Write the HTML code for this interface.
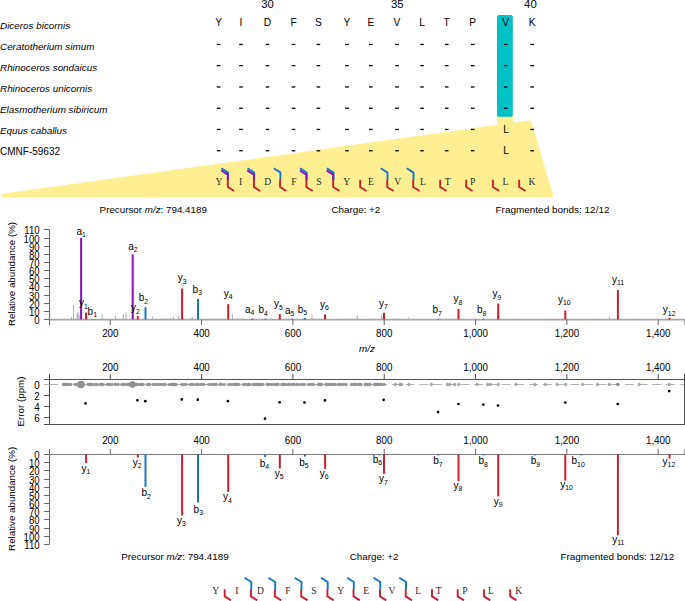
<!DOCTYPE html><html><head><meta charset="utf-8"><style>html,body{margin:0;padding:0;background:#fff;width:685px;height:601px;overflow:hidden}svg{display:block;font-family:"Liberation Sans",sans-serif}</style></head><body>
<svg width="685" height="601" viewBox="0 0 685 601">
<path d="M1.9,193.8 L528.5,120.4 Q530.8,120.1 531.5,122 L553,194.5 Q553.5,197.6 551,197.6 L1.9,197.6 Z" fill="#fef092"/>
<rect x="497" y="112" width="15.8" height="14" fill="#fef092"/>
<rect x="497" y="15" width="15.8" height="101.8" rx="2" fill="#00c1c6"/>
<text transform="translate(0.0,29.4) scale(1,1.0)" font-size="9.9" font-style="italic" fill="#000">Diceros bicornis</text>
<text transform="translate(0.0,50.3) scale(1,1.0)" font-size="9.9" font-style="italic" fill="#000">Ceratotherium simum</text>
<text transform="translate(0.0,71.3) scale(1,1.0)" font-size="9.9" font-style="italic" fill="#000">Rhinoceros sondaicus</text>
<text transform="translate(0.0,92.2) scale(1,1.0)" font-size="9.9" font-style="italic" fill="#000">Rhinoceros unicornis</text>
<text transform="translate(0.0,113.1) scale(1,1.0)" font-size="9.9" font-style="italic" fill="#000">Elasmotherium sibiricum</text>
<text transform="translate(0.0,134.1) scale(1,1.0)" font-size="9.9" font-style="italic" fill="#000">Equus caballus</text>
<text transform="translate(0.0,155.0) scale(1,1.0)" font-size="10" fill="#000">CMNF-59632</text>
<text transform="translate(218.6,25.7) scale(1,1.0)" font-size="10.2" text-anchor="middle" fill="#000">Y</text>
<text transform="translate(241.0,25.7) scale(1,1.0)" font-size="10.2" text-anchor="middle" fill="#000">I</text>
<text transform="translate(267.5,25.7) scale(1,1.0)" font-size="10.2" text-anchor="middle" fill="#000">D</text>
<text transform="translate(293.5,25.7) scale(1,1.0)" font-size="10.2" text-anchor="middle" fill="#000">F</text>
<text transform="translate(318.4,25.7) scale(1,1.0)" font-size="10.2" text-anchor="middle" fill="#000">S</text>
<text transform="translate(347.0,25.7) scale(1,1.0)" font-size="10.2" text-anchor="middle" fill="#000">Y</text>
<text transform="translate(370.8,25.7) scale(1,1.0)" font-size="10.2" text-anchor="middle" fill="#000">E</text>
<text transform="translate(397.0,25.7) scale(1,1.0)" font-size="10.2" text-anchor="middle" fill="#000">V</text>
<text transform="translate(422.0,25.7) scale(1,1.0)" font-size="10.2" text-anchor="middle" fill="#000">L</text>
<text transform="translate(446.7,25.7) scale(1,1.0)" font-size="10.2" text-anchor="middle" fill="#000">T</text>
<text transform="translate(472.7,25.7) scale(1,1.0)" font-size="10.2" text-anchor="middle" fill="#000">P</text>
<text transform="translate(505.7,25.7) scale(1,1.0)" font-size="10.2" text-anchor="middle" fill="#000">V</text>
<text transform="translate(532.2,25.7) scale(1,1.0)" font-size="10.2" text-anchor="middle" fill="#000">K</text>
<text transform="translate(267.5,8.2) scale(1,1.0)" font-size="11.3" text-anchor="middle" fill="#000">30</text>
<text transform="translate(397.3,8.2) scale(1,1.0)" font-size="11.3" text-anchor="middle" fill="#000">35</text>
<text transform="translate(530.4,8.2) scale(1,1.0)" font-size="11.3" text-anchor="middle" fill="#000">40</text>
<rect x="216.8" y="43.8" width="3.6" height="1.3" fill="#000"/>
<rect x="239.2" y="43.8" width="3.6" height="1.3" fill="#000"/>
<rect x="265.7" y="43.8" width="3.6" height="1.3" fill="#000"/>
<rect x="291.7" y="43.8" width="3.6" height="1.3" fill="#000"/>
<rect x="316.6" y="43.8" width="3.6" height="1.3" fill="#000"/>
<rect x="345.2" y="43.8" width="3.6" height="1.3" fill="#000"/>
<rect x="369.0" y="43.8" width="3.6" height="1.3" fill="#000"/>
<rect x="395.2" y="43.8" width="3.6" height="1.3" fill="#000"/>
<rect x="420.2" y="43.8" width="3.6" height="1.3" fill="#000"/>
<rect x="444.9" y="43.8" width="3.6" height="1.3" fill="#000"/>
<rect x="470.9" y="43.8" width="3.6" height="1.3" fill="#000"/>
<rect x="503.9" y="43.8" width="3.6" height="1.3" fill="#000"/>
<rect x="530.4" y="43.8" width="3.6" height="1.3" fill="#000"/>
<rect x="216.8" y="65.0" width="3.6" height="1.3" fill="#000"/>
<rect x="239.2" y="65.0" width="3.6" height="1.3" fill="#000"/>
<rect x="265.7" y="65.0" width="3.6" height="1.3" fill="#000"/>
<rect x="291.7" y="65.0" width="3.6" height="1.3" fill="#000"/>
<rect x="316.6" y="65.0" width="3.6" height="1.3" fill="#000"/>
<rect x="345.2" y="65.0" width="3.6" height="1.3" fill="#000"/>
<rect x="369.0" y="65.0" width="3.6" height="1.3" fill="#000"/>
<rect x="395.2" y="65.0" width="3.6" height="1.3" fill="#000"/>
<rect x="420.2" y="65.0" width="3.6" height="1.3" fill="#000"/>
<rect x="444.9" y="65.0" width="3.6" height="1.3" fill="#000"/>
<rect x="470.9" y="65.0" width="3.6" height="1.3" fill="#000"/>
<rect x="503.9" y="65.0" width="3.6" height="1.3" fill="#000"/>
<rect x="530.4" y="65.0" width="3.6" height="1.3" fill="#000"/>
<rect x="216.8" y="86.3" width="3.6" height="1.3" fill="#000"/>
<rect x="239.2" y="86.3" width="3.6" height="1.3" fill="#000"/>
<rect x="265.7" y="86.3" width="3.6" height="1.3" fill="#000"/>
<rect x="291.7" y="86.3" width="3.6" height="1.3" fill="#000"/>
<rect x="316.6" y="86.3" width="3.6" height="1.3" fill="#000"/>
<rect x="345.2" y="86.3" width="3.6" height="1.3" fill="#000"/>
<rect x="369.0" y="86.3" width="3.6" height="1.3" fill="#000"/>
<rect x="395.2" y="86.3" width="3.6" height="1.3" fill="#000"/>
<rect x="420.2" y="86.3" width="3.6" height="1.3" fill="#000"/>
<rect x="444.9" y="86.3" width="3.6" height="1.3" fill="#000"/>
<rect x="470.9" y="86.3" width="3.6" height="1.3" fill="#000"/>
<rect x="503.9" y="86.3" width="3.6" height="1.3" fill="#000"/>
<rect x="530.4" y="86.3" width="3.6" height="1.3" fill="#000"/>
<rect x="216.8" y="107.6" width="3.6" height="1.3" fill="#000"/>
<rect x="239.2" y="107.6" width="3.6" height="1.3" fill="#000"/>
<rect x="265.7" y="107.6" width="3.6" height="1.3" fill="#000"/>
<rect x="291.7" y="107.6" width="3.6" height="1.3" fill="#000"/>
<rect x="316.6" y="107.6" width="3.6" height="1.3" fill="#000"/>
<rect x="345.2" y="107.6" width="3.6" height="1.3" fill="#000"/>
<rect x="369.0" y="107.6" width="3.6" height="1.3" fill="#000"/>
<rect x="395.2" y="107.6" width="3.6" height="1.3" fill="#000"/>
<rect x="420.2" y="107.6" width="3.6" height="1.3" fill="#000"/>
<rect x="444.9" y="107.6" width="3.6" height="1.3" fill="#000"/>
<rect x="470.9" y="107.6" width="3.6" height="1.3" fill="#000"/>
<rect x="503.9" y="107.6" width="3.6" height="1.3" fill="#000"/>
<rect x="530.4" y="107.6" width="3.6" height="1.3" fill="#000"/>
<rect x="216.8" y="128.8" width="3.6" height="1.3" fill="#000"/>
<rect x="239.2" y="128.8" width="3.6" height="1.3" fill="#000"/>
<rect x="265.7" y="128.8" width="3.6" height="1.3" fill="#000"/>
<rect x="291.7" y="128.8" width="3.6" height="1.3" fill="#000"/>
<rect x="316.6" y="128.8" width="3.6" height="1.3" fill="#000"/>
<rect x="345.2" y="128.8" width="3.6" height="1.3" fill="#000"/>
<rect x="369.0" y="128.8" width="3.6" height="1.3" fill="#000"/>
<rect x="395.2" y="128.8" width="3.6" height="1.3" fill="#000"/>
<rect x="420.2" y="128.8" width="3.6" height="1.3" fill="#000"/>
<rect x="444.9" y="128.8" width="3.6" height="1.3" fill="#000"/>
<rect x="470.9" y="128.8" width="3.6" height="1.3" fill="#000"/>
<rect x="530.4" y="128.8" width="3.6" height="1.3" fill="#000"/>
<rect x="216.8" y="150.1" width="3.6" height="1.3" fill="#000"/>
<rect x="239.2" y="150.1" width="3.6" height="1.3" fill="#000"/>
<rect x="265.7" y="150.1" width="3.6" height="1.3" fill="#000"/>
<rect x="291.7" y="150.1" width="3.6" height="1.3" fill="#000"/>
<rect x="316.6" y="150.1" width="3.6" height="1.3" fill="#000"/>
<rect x="345.2" y="150.1" width="3.6" height="1.3" fill="#000"/>
<rect x="369.0" y="150.1" width="3.6" height="1.3" fill="#000"/>
<rect x="395.2" y="150.1" width="3.6" height="1.3" fill="#000"/>
<rect x="420.2" y="150.1" width="3.6" height="1.3" fill="#000"/>
<rect x="444.9" y="150.1" width="3.6" height="1.3" fill="#000"/>
<rect x="470.9" y="150.1" width="3.6" height="1.3" fill="#000"/>
<rect x="530.4" y="150.1" width="3.6" height="1.3" fill="#000"/>
<text transform="translate(506.0,132.9) scale(1,1.0)" font-size="10.2" text-anchor="middle" fill="#000">L</text>
<text transform="translate(506.0,153.7) scale(1,1.0)" font-size="10.2" text-anchor="middle" fill="#000">L</text>
<text transform="translate(218.9,184.8) scale(1,1.0)" font-size="9.6" font-family="Liberation Serif" text-anchor="middle" fill="#2a2a2a">Y</text>
<text transform="translate(240.7,184.8) scale(1,1.0)" font-size="9.6" font-family="Liberation Serif" text-anchor="middle" fill="#2a2a2a">I</text>
<text transform="translate(267.8,184.8) scale(1,1.0)" font-size="9.6" font-family="Liberation Serif" text-anchor="middle" fill="#2a2a2a">D</text>
<text transform="translate(293.8,184.8) scale(1,1.0)" font-size="9.6" font-family="Liberation Serif" text-anchor="middle" fill="#2a2a2a">F</text>
<text transform="translate(319.0,184.8) scale(1,1.0)" font-size="9.6" font-family="Liberation Serif" text-anchor="middle" fill="#2a2a2a">S</text>
<text transform="translate(346.6,184.8) scale(1,1.0)" font-size="9.6" font-family="Liberation Serif" text-anchor="middle" fill="#2a2a2a">Y</text>
<text transform="translate(371.0,184.8) scale(1,1.0)" font-size="9.6" font-family="Liberation Serif" text-anchor="middle" fill="#2a2a2a">E</text>
<text transform="translate(397.8,184.8) scale(1,1.0)" font-size="9.6" font-family="Liberation Serif" text-anchor="middle" fill="#2a2a2a">V</text>
<text transform="translate(422.9,184.8) scale(1,1.0)" font-size="9.6" font-family="Liberation Serif" text-anchor="middle" fill="#2a2a2a">L</text>
<text transform="translate(447.6,184.8) scale(1,1.0)" font-size="9.6" font-family="Liberation Serif" text-anchor="middle" fill="#2a2a2a">T</text>
<text transform="translate(472.6,184.8) scale(1,1.0)" font-size="9.6" font-family="Liberation Serif" text-anchor="middle" fill="#2a2a2a">P</text>
<text transform="translate(505.4,184.8) scale(1,1.0)" font-size="9.6" font-family="Liberation Serif" text-anchor="middle" fill="#2a2a2a">L</text>
<text transform="translate(532.0,184.8) scale(1,1.0)" font-size="9.6" font-family="Liberation Serif" text-anchor="middle" fill="#2a2a2a">K</text>
<polyline points="221.3,168.3 228.1,172.6 228.1,180.1" fill="none" stroke="#1a74c4" stroke-width="1.9"/><polyline points="221.2,170.5 227.8,174.6 227.8,180.1" fill="none" stroke="#8612b8" stroke-width="1.9"/><polyline points="227.8,179.8 227.8,187.0 234.1,191.0" fill="none" stroke="#c8202f" stroke-width="1.9"/>
<polyline points="247.5,168.3 254.2,172.6 254.2,180.1" fill="none" stroke="#1a74c4" stroke-width="1.9"/><polyline points="247.3,170.5 253.9,174.6 253.9,180.1" fill="none" stroke="#8612b8" stroke-width="1.9"/><polyline points="253.9,179.8 253.9,187.0 260.2,191.0" fill="none" stroke="#c8202f" stroke-width="1.9"/>
<polyline points="273.7,168.3 280.4,172.6 280.4,180.1" fill="none" stroke="#1a74c4" stroke-width="1.9"/><polyline points="280.1,179.8 280.1,187.0 286.4,191.0" fill="none" stroke="#c8202f" stroke-width="1.9"/>
<polyline points="300.0,168.3 306.7,172.6 306.7,180.1" fill="none" stroke="#1a74c4" stroke-width="1.9"/><polyline points="299.8,170.5 306.4,174.6 306.4,180.1" fill="none" stroke="#8612b8" stroke-width="1.9"/><polyline points="306.4,179.8 306.4,187.0 312.7,191.0" fill="none" stroke="#c8202f" stroke-width="1.9"/>
<polyline points="326.8,168.3 333.5,172.6 333.5,180.1" fill="none" stroke="#1a74c4" stroke-width="1.9"/><polyline points="326.6,170.5 333.2,174.6 333.2,180.1" fill="none" stroke="#8612b8" stroke-width="1.9"/><polyline points="333.2,179.8 333.2,187.0 339.5,191.0" fill="none" stroke="#c8202f" stroke-width="1.9"/>
<polyline points="360.2,179.8 360.2,187.0 366.5,191.0" fill="none" stroke="#c8202f" stroke-width="1.9"/>
<polyline points="380.8,168.3 387.5,172.6 387.5,180.1" fill="none" stroke="#1a74c4" stroke-width="1.9"/><polyline points="387.2,179.8 387.2,187.0 393.5,191.0" fill="none" stroke="#c8202f" stroke-width="1.9"/>
<polyline points="406.8,168.3 413.5,172.6 413.5,180.1" fill="none" stroke="#1a74c4" stroke-width="1.9"/><polyline points="413.2,179.8 413.2,187.0 419.5,191.0" fill="none" stroke="#c8202f" stroke-width="1.9"/>
<polyline points="440.2,179.8 440.2,187.0 446.5,191.0" fill="none" stroke="#c8202f" stroke-width="1.9"/>
<polyline points="466.2,179.8 466.2,187.0 472.5,191.0" fill="none" stroke="#c8202f" stroke-width="1.9"/>
<polyline points="492.9,179.8 492.9,187.0 499.2,191.0" fill="none" stroke="#c8202f" stroke-width="1.9"/>
<polyline points="519.2,179.8 519.2,187.0 525.5,191.0" fill="none" stroke="#c8202f" stroke-width="1.9"/>
<text transform="translate(215.8,593.8) scale(1,1.0)" font-size="9.6" font-family="Liberation Serif" text-anchor="middle" fill="#2a2a2a">Y</text>
<text transform="translate(236.8,593.8) scale(1,1.0)" font-size="9.6" font-family="Liberation Serif" text-anchor="middle" fill="#2a2a2a">I</text>
<text transform="translate(260.4,593.8) scale(1,1.0)" font-size="9.6" font-family="Liberation Serif" text-anchor="middle" fill="#2a2a2a">D</text>
<text transform="translate(288.0,593.8) scale(1,1.0)" font-size="9.6" font-family="Liberation Serif" text-anchor="middle" fill="#2a2a2a">F</text>
<text transform="translate(313.8,593.8) scale(1,1.0)" font-size="9.6" font-family="Liberation Serif" text-anchor="middle" fill="#2a2a2a">S</text>
<text transform="translate(340.6,593.8) scale(1,1.0)" font-size="9.6" font-family="Liberation Serif" text-anchor="middle" fill="#2a2a2a">Y</text>
<text transform="translate(366.3,593.8) scale(1,1.0)" font-size="9.6" font-family="Liberation Serif" text-anchor="middle" fill="#2a2a2a">E</text>
<text transform="translate(392.0,593.8) scale(1,1.0)" font-size="9.6" font-family="Liberation Serif" text-anchor="middle" fill="#2a2a2a">V</text>
<text transform="translate(418.2,593.8) scale(1,1.0)" font-size="9.6" font-family="Liberation Serif" text-anchor="middle" fill="#2a2a2a">L</text>
<text transform="translate(438.7,593.8) scale(1,1.0)" font-size="9.6" font-family="Liberation Serif" text-anchor="middle" fill="#2a2a2a">T</text>
<text transform="translate(465.0,593.8) scale(1,1.0)" font-size="9.6" font-family="Liberation Serif" text-anchor="middle" fill="#2a2a2a">P</text>
<text transform="translate(491.0,593.8) scale(1,1.0)" font-size="9.6" font-family="Liberation Serif" text-anchor="middle" fill="#2a2a2a">L</text>
<text transform="translate(518.7,593.8) scale(1,1.0)" font-size="9.6" font-family="Liberation Serif" text-anchor="middle" fill="#2a2a2a">K</text>
<polyline points="224.7,589.2 224.7,596.4 231.0,600.4" fill="none" stroke="#c8202f" stroke-width="1.9"/>
<polyline points="244.6,577.7 251.3,582.0 251.3,589.5" fill="none" stroke="#1a74c4" stroke-width="1.9"/><polyline points="251.0,589.2 251.0,596.4 257.3,600.4" fill="none" stroke="#c8202f" stroke-width="1.9"/>
<polyline points="268.5,577.7 275.2,582.0 275.2,589.5" fill="none" stroke="#1a74c4" stroke-width="1.9"/><polyline points="274.9,589.2 274.9,596.4 281.2,600.4" fill="none" stroke="#c8202f" stroke-width="1.9"/>
<polyline points="294.8,577.7 301.5,582.0 301.5,589.5" fill="none" stroke="#1a74c4" stroke-width="1.9"/><polyline points="301.2,589.2 301.2,596.4 307.5,600.4" fill="none" stroke="#c8202f" stroke-width="1.9"/>
<polyline points="321.0,577.7 327.7,582.0 327.7,589.5" fill="none" stroke="#1a74c4" stroke-width="1.9"/><polyline points="327.4,589.2 327.4,596.4 333.7,600.4" fill="none" stroke="#c8202f" stroke-width="1.9"/>
<polyline points="347.1,577.7 353.8,582.0 353.8,589.5" fill="none" stroke="#1a74c4" stroke-width="1.9"/><polyline points="353.5,589.2 353.5,596.4 359.8,600.4" fill="none" stroke="#c8202f" stroke-width="1.9"/>
<polyline points="373.6,577.7 380.3,582.0 380.3,589.5" fill="none" stroke="#1a74c4" stroke-width="1.9"/><polyline points="380.0,589.2 380.0,596.4 386.3,600.4" fill="none" stroke="#c8202f" stroke-width="1.9"/>
<polyline points="399.3,577.7 406.0,582.0 406.0,589.5" fill="none" stroke="#1a74c4" stroke-width="1.9"/><polyline points="405.7,589.2 405.7,596.4 412.0,600.4" fill="none" stroke="#c8202f" stroke-width="1.9"/>
<polyline points="432.0,589.2 432.0,596.4 438.3,600.4" fill="none" stroke="#c8202f" stroke-width="1.9"/>
<polyline points="457.7,589.2 457.7,596.4 464.0,600.4" fill="none" stroke="#c8202f" stroke-width="1.9"/>
<polyline points="484.0,589.2 484.0,596.4 490.3,600.4" fill="none" stroke="#c8202f" stroke-width="1.9"/>
<polyline points="510.2,589.2 510.2,596.4 516.5,600.4" fill="none" stroke="#c8202f" stroke-width="1.9"/>
<text transform="translate(99.6,213.3) scale(1,1.0)" font-size="9.8" fill="#000">Precursor <tspan font-style="italic">m/z</tspan>: 794.4189</text>
<text transform="translate(331.5,213.3) scale(1,1.0)" font-size="9.8" fill="#000">Charge: +2</text>
<text transform="translate(495.5,213.3) scale(1,1.0)" font-size="9.96" fill="#000">Fragmented bonds: 12/12</text>
<text transform="translate(121.3,559.5) scale(1,1.0)" font-size="9.8" fill="#000">Precursor <tspan font-style="italic">m/z</tspan>: 794.4189</text>
<text transform="translate(349.7,559.5) scale(1,1.0)" font-size="9.8" fill="#000">Charge: +2</text>
<text transform="translate(560.4,559.5) scale(1,1.0)" font-size="9.96" fill="#000">Fragmented bonds: 12/12</text>
<line x1="64.6" y1="319.5" x2="64.6" y2="318.7" stroke="#8c8c8c" stroke-width="0.7"/>
<line x1="71.4" y1="319.5" x2="71.4" y2="317.0" stroke="#8c8c8c" stroke-width="0.7"/>
<line x1="73.6" y1="319.5" x2="73.6" y2="304.8" stroke="#8c8c8c" stroke-width="0.7"/>
<line x1="77.2" y1="319.5" x2="77.2" y2="313.0" stroke="#8c8c8c" stroke-width="0.7"/>
<line x1="78.0" y1="319.5" x2="78.0" y2="312.1" stroke="#8c8c8c" stroke-width="0.7"/>
<line x1="79.2" y1="319.5" x2="79.2" y2="315.4" stroke="#8c8c8c" stroke-width="0.7"/>
<line x1="102.2" y1="319.5" x2="102.2" y2="313.8" stroke="#8c8c8c" stroke-width="0.7"/>
<line x1="115.4" y1="319.5" x2="115.4" y2="315.8" stroke="#8c8c8c" stroke-width="0.7"/>
<line x1="117.7" y1="319.5" x2="117.7" y2="318.7" stroke="#8c8c8c" stroke-width="0.7"/>
<line x1="120.0" y1="319.5" x2="120.0" y2="318.7" stroke="#8c8c8c" stroke-width="0.7"/>
<line x1="123.3" y1="319.5" x2="123.3" y2="314.2" stroke="#8c8c8c" stroke-width="0.7"/>
<line x1="126.1" y1="319.5" x2="126.1" y2="312.6" stroke="#8c8c8c" stroke-width="0.7"/>
<line x1="152.4" y1="319.5" x2="152.4" y2="316.4" stroke="#8c8c8c" stroke-width="0.7"/>
<line x1="161.1" y1="319.5" x2="161.1" y2="318.3" stroke="#8c8c8c" stroke-width="0.7"/>
<line x1="165.0" y1="319.5" x2="165.0" y2="318.0" stroke="#8c8c8c" stroke-width="0.7"/>
<line x1="167.7" y1="319.5" x2="167.7" y2="318.3" stroke="#8c8c8c" stroke-width="0.7"/>
<line x1="170.4" y1="319.5" x2="170.4" y2="317.9" stroke="#8c8c8c" stroke-width="0.7"/>
<line x1="173.2" y1="319.5" x2="173.2" y2="316.6" stroke="#8c8c8c" stroke-width="0.7"/>
<line x1="178.6" y1="319.5" x2="178.6" y2="316.4" stroke="#8c8c8c" stroke-width="0.7"/>
<line x1="190.7" y1="319.5" x2="190.7" y2="317.9" stroke="#8c8c8c" stroke-width="0.7"/>
<line x1="192.3" y1="319.5" x2="192.3" y2="317.0" stroke="#8c8c8c" stroke-width="0.7"/>
<line x1="207.8" y1="319.5" x2="207.8" y2="318.7" stroke="#8c8c8c" stroke-width="0.7"/>
<line x1="213.7" y1="319.5" x2="213.7" y2="318.5" stroke="#8c8c8c" stroke-width="0.7"/>
<line x1="219.5" y1="319.5" x2="219.5" y2="318.5" stroke="#8c8c8c" stroke-width="0.7"/>
<line x1="223.0" y1="319.5" x2="223.0" y2="318.7" stroke="#8c8c8c" stroke-width="0.7"/>
<line x1="232.4" y1="319.5" x2="232.4" y2="314.0" stroke="#8c8c8c" stroke-width="0.7"/>
<line x1="237.3" y1="319.5" x2="237.3" y2="318.3" stroke="#8c8c8c" stroke-width="0.7"/>
<line x1="241.0" y1="319.5" x2="241.0" y2="318.5" stroke="#8c8c8c" stroke-width="0.7"/>
<line x1="244.6" y1="319.5" x2="244.6" y2="318.7" stroke="#8c8c8c" stroke-width="0.7"/>
<line x1="259.8" y1="319.5" x2="259.8" y2="318.7" stroke="#8c8c8c" stroke-width="0.7"/>
<line x1="270.9" y1="319.5" x2="270.9" y2="318.5" stroke="#8c8c8c" stroke-width="0.7"/>
<line x1="285.0" y1="319.5" x2="285.0" y2="318.5" stroke="#8c8c8c" stroke-width="0.7"/>
<line x1="312.0" y1="319.5" x2="312.0" y2="314.6" stroke="#8c8c8c" stroke-width="0.7"/>
<line x1="336.0" y1="319.5" x2="336.0" y2="318.7" stroke="#8c8c8c" stroke-width="0.7"/>
<line x1="348.0" y1="319.5" x2="348.0" y2="318.7" stroke="#8c8c8c" stroke-width="0.7"/>
<line x1="349.5" y1="319.5" x2="349.5" y2="318.8" stroke="#8c8c8c" stroke-width="0.7"/>
<line x1="357.3" y1="319.5" x2="357.3" y2="315.0" stroke="#8c8c8c" stroke-width="0.7"/>
<line x1="352.0" y1="319.5" x2="352.0" y2="318.8" stroke="#8c8c8c" stroke-width="0.7"/>
<line x1="360.0" y1="319.5" x2="360.0" y2="318.8" stroke="#8c8c8c" stroke-width="0.7"/>
<line x1="363.0" y1="319.5" x2="363.0" y2="318.8" stroke="#8c8c8c" stroke-width="0.7"/>
<line x1="373.0" y1="319.5" x2="373.0" y2="318.7" stroke="#8c8c8c" stroke-width="0.7"/>
<line x1="376.0" y1="319.5" x2="376.0" y2="318.7" stroke="#8c8c8c" stroke-width="0.7"/>
<line x1="381.4" y1="319.5" x2="381.4" y2="315.7" stroke="#8c8c8c" stroke-width="0.7"/>
<line x1="394.0" y1="319.5" x2="394.0" y2="318.7" stroke="#8c8c8c" stroke-width="0.7"/>
<line x1="399.0" y1="319.5" x2="399.0" y2="318.7" stroke="#8c8c8c" stroke-width="0.7"/>
<line x1="408.6" y1="319.5" x2="408.6" y2="317.5" stroke="#8c8c8c" stroke-width="0.7"/>
<line x1="446.3" y1="319.5" x2="446.3" y2="318.7" stroke="#8c8c8c" stroke-width="0.7"/>
<line x1="450.4" y1="319.5" x2="450.4" y2="318.7" stroke="#8c8c8c" stroke-width="0.7"/>
<line x1="455.0" y1="319.5" x2="455.0" y2="318.4" stroke="#8c8c8c" stroke-width="0.7"/>
<line x1="490.0" y1="319.5" x2="490.0" y2="318.7" stroke="#8c8c8c" stroke-width="0.7"/>
<line x1="516.5" y1="319.5" x2="516.5" y2="318.8" stroke="#8c8c8c" stroke-width="0.7"/>
<line x1="545.6" y1="319.5" x2="545.6" y2="318.8" stroke="#8c8c8c" stroke-width="0.7"/>
<line x1="557.4" y1="319.5" x2="557.4" y2="318.8" stroke="#8c8c8c" stroke-width="0.7"/>
<line x1="597.8" y1="319.5" x2="597.8" y2="318.8" stroke="#8c8c8c" stroke-width="0.7"/>
<line x1="609.5" y1="319.5" x2="609.5" y2="316.4" stroke="#8c8c8c" stroke-width="0.7"/>
<line x1="639.7" y1="319.5" x2="639.7" y2="318.8" stroke="#8c8c8c" stroke-width="0.7"/>
<line x1="49.5" y1="229.5" x2="49.5" y2="325" stroke="#6a6a6a" stroke-width="1"/>
<line x1="50" y1="319.6" x2="685" y2="319.6" stroke="#a6a6a6" stroke-width="1.6"/>
<line x1="44" y1="319.5" x2="49.4" y2="319.5" stroke="#6a6a6a" stroke-width="1"/>
<text transform="translate(39.6,323.8) scale(1,1.16)" font-size="9.6" text-anchor="end" fill="#000">0</text>
<line x1="44" y1="311.5" x2="49.4" y2="311.5" stroke="#6a6a6a" stroke-width="1"/>
<text transform="translate(39.6,315.8) scale(1,1.16)" font-size="9.6" text-anchor="end" fill="#000">10</text>
<line x1="44" y1="303.5" x2="49.4" y2="303.5" stroke="#6a6a6a" stroke-width="1"/>
<text transform="translate(39.6,307.8) scale(1,1.16)" font-size="9.6" text-anchor="end" fill="#000">20</text>
<line x1="44" y1="295.5" x2="49.4" y2="295.5" stroke="#6a6a6a" stroke-width="1"/>
<text transform="translate(39.6,299.8) scale(1,1.16)" font-size="9.6" text-anchor="end" fill="#000">30</text>
<line x1="44" y1="286.5" x2="49.4" y2="286.5" stroke="#6a6a6a" stroke-width="1"/>
<text transform="translate(39.6,290.8) scale(1,1.16)" font-size="9.6" text-anchor="end" fill="#000">40</text>
<line x1="44" y1="278.5" x2="49.4" y2="278.5" stroke="#6a6a6a" stroke-width="1"/>
<text transform="translate(39.6,282.8) scale(1,1.16)" font-size="9.6" text-anchor="end" fill="#000">50</text>
<line x1="44" y1="270.5" x2="49.4" y2="270.5" stroke="#6a6a6a" stroke-width="1"/>
<text transform="translate(39.6,274.8) scale(1,1.16)" font-size="9.6" text-anchor="end" fill="#000">60</text>
<line x1="44" y1="262.5" x2="49.4" y2="262.5" stroke="#6a6a6a" stroke-width="1"/>
<text transform="translate(39.6,266.8) scale(1,1.16)" font-size="9.6" text-anchor="end" fill="#000">70</text>
<line x1="44" y1="254.5" x2="49.4" y2="254.5" stroke="#6a6a6a" stroke-width="1"/>
<text transform="translate(39.6,258.8) scale(1,1.16)" font-size="9.6" text-anchor="end" fill="#000">80</text>
<line x1="44" y1="246.5" x2="49.4" y2="246.5" stroke="#6a6a6a" stroke-width="1"/>
<text transform="translate(39.6,250.8) scale(1,1.16)" font-size="9.6" text-anchor="end" fill="#000">90</text>
<line x1="44" y1="238.5" x2="49.4" y2="238.5" stroke="#6a6a6a" stroke-width="1"/>
<text transform="translate(39.6,242.8) scale(1,1.16)" font-size="9.6" text-anchor="end" fill="#000">100</text>
<line x1="44" y1="229.5" x2="49.4" y2="229.5" stroke="#6a6a6a" stroke-width="1"/>
<text transform="translate(39.6,233.8) scale(1,1.16)" font-size="9.6" text-anchor="end" fill="#000">110</text>
<line x1="110.27" y1="319.5" x2="110.27" y2="325" stroke="#6a6a6a" stroke-width="1"/>
<text transform="translate(110.3,336.6) scale(1,1.16)" font-size="9.8" text-anchor="middle" fill="#000">200</text>
<line x1="201.59" y1="319.5" x2="201.59" y2="325" stroke="#6a6a6a" stroke-width="1"/>
<text transform="translate(201.6,336.6) scale(1,1.16)" font-size="9.8" text-anchor="middle" fill="#000">400</text>
<line x1="292.91" y1="319.5" x2="292.91" y2="325" stroke="#6a6a6a" stroke-width="1"/>
<text transform="translate(292.9,336.6) scale(1,1.16)" font-size="9.8" text-anchor="middle" fill="#000">600</text>
<line x1="384.23" y1="319.5" x2="384.23" y2="325" stroke="#6a6a6a" stroke-width="1"/>
<text transform="translate(384.2,336.6) scale(1,1.16)" font-size="9.8" text-anchor="middle" fill="#000">800</text>
<line x1="475.55" y1="319.5" x2="475.55" y2="325" stroke="#6a6a6a" stroke-width="1"/>
<text transform="translate(475.6,336.6) scale(1,1.16)" font-size="9.8" text-anchor="middle" fill="#000">1,000</text>
<line x1="566.87" y1="319.5" x2="566.87" y2="325" stroke="#6a6a6a" stroke-width="1"/>
<text transform="translate(566.9,336.6) scale(1,1.16)" font-size="9.8" text-anchor="middle" fill="#000">1,200</text>
<line x1="658.19" y1="319.5" x2="658.19" y2="325" stroke="#6a6a6a" stroke-width="1"/>
<text transform="translate(658.2,336.6) scale(1,1.16)" font-size="9.8" text-anchor="middle" fill="#000">1,400</text>
<line x1="684.3" y1="319.5" x2="684.3" y2="325" stroke="#999" stroke-width="1"/>
<text transform="translate(367.0,351.5) scale(1,1.0)" font-size="9.8" font-style="italic" text-anchor="middle" fill="#000">m/z</text>
<text transform="translate(14.8,326) rotate(-90)" font-size="9.75" fill="#000">Relative abundance (%)</text>
<line x1="81.1" y1="319.5" x2="81.1" y2="237.8" stroke="#8612b8" stroke-width="2"/>
<line x1="86.1" y1="319.5" x2="86.1" y2="312.6" stroke="#c8202f" stroke-width="2"/>
<line x1="93.9" y1="319.5" x2="93.9" y2="319.1" stroke="#1a74c4" stroke-width="2"/>
<line x1="132.7" y1="319.5" x2="132.7" y2="254.3" stroke="#8612b8" stroke-width="2"/>
<line x1="137.8" y1="319.5" x2="137.8" y2="315.9" stroke="#c8202f" stroke-width="2"/>
<line x1="145.5" y1="319.5" x2="145.5" y2="307.2" stroke="#1a74c4" stroke-width="2"/>
<line x1="182.1" y1="319.5" x2="182.1" y2="288.5" stroke="#c8202f" stroke-width="2"/>
<line x1="198.0" y1="319.5" x2="198.0" y2="299.1" stroke="#1a74c4" stroke-width="2"/>
<line x1="228.2" y1="319.5" x2="228.2" y2="304.2" stroke="#c8202f" stroke-width="2"/>
<line x1="252.4" y1="319.5" x2="252.4" y2="318.7" stroke="#8612b8" stroke-width="2"/>
<line x1="265.2" y1="319.5" x2="265.2" y2="318.7" stroke="#1a74c4" stroke-width="2"/>
<line x1="279.8" y1="319.5" x2="279.8" y2="314.1" stroke="#c8202f" stroke-width="2"/>
<line x1="292.1" y1="319.5" x2="292.1" y2="318.7" stroke="#8612b8" stroke-width="2"/>
<line x1="304.9" y1="319.5" x2="304.9" y2="317.9" stroke="#1a74c4" stroke-width="2"/>
<line x1="325.1" y1="319.5" x2="325.1" y2="314.4" stroke="#c8202f" stroke-width="2"/>
<line x1="384.0" y1="319.5" x2="384.0" y2="312.7" stroke="#c8202f" stroke-width="2"/>
<line x1="438.3" y1="319.5" x2="438.3" y2="318.8" stroke="#1a74c4" stroke-width="2"/>
<line x1="458.5" y1="319.5" x2="458.5" y2="308.9" stroke="#c8202f" stroke-width="2"/>
<line x1="483.5" y1="319.5" x2="483.5" y2="318.8" stroke="#1a74c4" stroke-width="2"/>
<line x1="498.2" y1="319.5" x2="498.2" y2="303.5" stroke="#c8202f" stroke-width="2"/>
<line x1="565.3" y1="319.5" x2="565.3" y2="310.5" stroke="#c8202f" stroke-width="2"/>
<line x1="617.9" y1="319.5" x2="617.9" y2="290.1" stroke="#c8202f" stroke-width="2"/>
<line x1="669.5" y1="319.5" x2="669.5" y2="317.9" stroke="#c8202f" stroke-width="2"/>
<text transform="translate(76.5,234.6) scale(1,1.0)" font-size="10" fill="#000">a<tspan font-size="6.9" dy="2.3">1</tspan></text>
<text transform="translate(79.0,306.3) scale(1,1.0)" font-size="10" fill="#000">y<tspan font-size="6.9" dy="2.3">1</tspan></text>
<text transform="translate(87.6,315.0) scale(1,1.0)" font-size="10" fill="#000">b<tspan font-size="6.9" dy="2.3">1</tspan></text>
<text transform="translate(128.3,249.7) scale(1,1.0)" font-size="10" fill="#000">a<tspan font-size="6.9" dy="2.3">2</tspan></text>
<text transform="translate(131.0,311.4) scale(1,1.0)" font-size="10" fill="#000">y<tspan font-size="6.9" dy="2.3">2</tspan></text>
<text transform="translate(138.8,301.4) scale(1,1.0)" font-size="10" fill="#000">b<tspan font-size="6.9" dy="2.3">2</tspan></text>
<text transform="translate(177.7,281.3) scale(1,1.0)" font-size="10" fill="#000">y<tspan font-size="6.9" dy="2.3">3</tspan></text>
<text transform="translate(192.6,292.9) scale(1,1.0)" font-size="10" fill="#000">b<tspan font-size="6.9" dy="2.3">3</tspan></text>
<text transform="translate(223.7,296.7) scale(1,1.0)" font-size="10" fill="#000">y<tspan font-size="6.9" dy="2.3">4</tspan></text>
<text transform="translate(245.0,312.8) scale(1,1.0)" font-size="10" fill="#000">a<tspan font-size="6.9" dy="2.3">4</tspan></text>
<text transform="translate(258.4,313.3) scale(1,1.0)" font-size="10" fill="#000">b<tspan font-size="6.9" dy="2.3">4</tspan></text>
<text transform="translate(274.0,307.3) scale(1,1.0)" font-size="10" fill="#000">y<tspan font-size="6.9" dy="2.3">5</tspan></text>
<text transform="translate(285.0,313.6) scale(1,1.0)" font-size="10" fill="#000">a<tspan font-size="6.9" dy="2.3">5</tspan></text>
<text transform="translate(297.8,312.9) scale(1,1.0)" font-size="10" fill="#000">b<tspan font-size="6.9" dy="2.3">5</tspan></text>
<text transform="translate(320.0,307.7) scale(1,1.0)" font-size="10" fill="#000">y<tspan font-size="6.9" dy="2.3">6</tspan></text>
<text transform="translate(378.9,306.8) scale(1,1.0)" font-size="10" fill="#000">y<tspan font-size="6.9" dy="2.3">7</tspan></text>
<text transform="translate(432.5,313.4) scale(1,1.0)" font-size="10" fill="#000">b<tspan font-size="6.9" dy="2.3">7</tspan></text>
<text transform="translate(453.5,302.3) scale(1,1.0)" font-size="10" fill="#000">y<tspan font-size="6.9" dy="2.3">8</tspan></text>
<text transform="translate(477.0,313.4) scale(1,1.0)" font-size="10" fill="#000">b<tspan font-size="6.9" dy="2.3">8</tspan></text>
<text transform="translate(492.4,297.4) scale(1,1.0)" font-size="10" fill="#000">y<tspan font-size="6.9" dy="2.3">9</tspan></text>
<text transform="translate(558.0,302.7) scale(1,1.0)" font-size="10" fill="#000">y<tspan font-size="6.9" dy="2.3">10</tspan></text>
<text transform="translate(612.0,283.0) scale(1,1.0)" font-size="10" fill="#000">y<tspan font-size="6.9" dy="2.3">11</tspan></text>
<text transform="translate(662.8,313.2) scale(1,1.0)" font-size="10" fill="#000">y<tspan font-size="6.9" dy="2.3">12</tspan></text>
<line x1="44" y1="379.5" x2="685" y2="379.5" stroke="#505050" stroke-width="1"/>
<line x1="44" y1="424.5" x2="685" y2="424.5" stroke="#505050" stroke-width="1"/>
<line x1="49.5" y1="374" x2="49.5" y2="425" stroke="#505050" stroke-width="1"/>
<line x1="684.5" y1="374" x2="684.5" y2="425" stroke="#505050" stroke-width="1"/>
<text transform="translate(39.6,388.8) scale(1,1.16)" font-size="9.8" text-anchor="end" fill="#000">0</text>
<line x1="44" y1="395.5" x2="49.5" y2="395.5" stroke="#505050" stroke-width="1"/>
<text transform="translate(39.6,399.8) scale(1,1.16)" font-size="9.8" text-anchor="end" fill="#000">2</text>
<line x1="44" y1="406.5" x2="49.5" y2="406.5" stroke="#505050" stroke-width="1"/>
<text transform="translate(39.6,410.8) scale(1,1.16)" font-size="9.8" text-anchor="end" fill="#000">4</text>
<line x1="44" y1="417.5" x2="49.5" y2="417.5" stroke="#505050" stroke-width="1"/>
<text transform="translate(39.6,421.8) scale(1,1.16)" font-size="9.8" text-anchor="end" fill="#000">6</text>
<line x1="110.27" y1="374" x2="110.27" y2="379.5" stroke="#505050" stroke-width="1"/>
<text transform="translate(110.3,370.6) scale(1,1.16)" font-size="9.8" text-anchor="middle" fill="#000">200</text>
<line x1="201.59" y1="374" x2="201.59" y2="379.5" stroke="#505050" stroke-width="1"/>
<text transform="translate(201.6,370.6) scale(1,1.16)" font-size="9.8" text-anchor="middle" fill="#000">400</text>
<line x1="292.91" y1="374" x2="292.91" y2="379.5" stroke="#505050" stroke-width="1"/>
<text transform="translate(292.9,370.6) scale(1,1.16)" font-size="9.8" text-anchor="middle" fill="#000">600</text>
<line x1="384.23" y1="374" x2="384.23" y2="379.5" stroke="#505050" stroke-width="1"/>
<text transform="translate(384.2,370.6) scale(1,1.16)" font-size="9.8" text-anchor="middle" fill="#000">800</text>
<line x1="475.55" y1="374" x2="475.55" y2="379.5" stroke="#505050" stroke-width="1"/>
<text transform="translate(475.6,370.6) scale(1,1.16)" font-size="9.8" text-anchor="middle" fill="#000">1,000</text>
<line x1="566.87" y1="374" x2="566.87" y2="379.5" stroke="#505050" stroke-width="1"/>
<text transform="translate(566.9,370.6) scale(1,1.16)" font-size="9.8" text-anchor="middle" fill="#000">1,200</text>
<line x1="658.19" y1="374" x2="658.19" y2="379.5" stroke="#505050" stroke-width="1"/>
<text transform="translate(658.2,370.6) scale(1,1.16)" font-size="9.8" text-anchor="middle" fill="#000">1,400</text>
<text transform="translate(24.3,426.4) rotate(-90)" font-size="9.75" fill="#000">Error (ppm)</text>
<line x1="44" y1="384.5" x2="49.5" y2="384.5" stroke="#b4b4b4" stroke-width="1"/>
<line x1="49.5" y1="384.5" x2="684" y2="384.5" stroke="#b4b4b4" stroke-width="1" stroke-dasharray="9 4.7"/>
<circle cx="63.5" cy="384.5" r="1.4" fill="#9c9c9c" stroke="#7a7a7a" stroke-width="0.5"/>
<circle cx="65.2" cy="384.5" r="1.2" fill="#9c9c9c" stroke="#7a7a7a" stroke-width="0.5"/>
<circle cx="66.5" cy="384.5" r="1.4" fill="#9c9c9c" stroke="#7a7a7a" stroke-width="0.5"/>
<circle cx="68.4" cy="384.5" r="1.2" fill="#9c9c9c" stroke="#7a7a7a" stroke-width="0.5"/>
<circle cx="69.7" cy="384.5" r="1.3" fill="#9c9c9c" stroke="#7a7a7a" stroke-width="0.5"/>
<circle cx="71.0" cy="384.5" r="1.1" fill="#9c9c9c" stroke="#7a7a7a" stroke-width="0.5"/>
<circle cx="74.7" cy="384.5" r="1.2" fill="#9c9c9c" stroke="#7a7a7a" stroke-width="0.5"/>
<circle cx="76.5" cy="384.5" r="1.1" fill="#9c9c9c" stroke="#7a7a7a" stroke-width="0.5"/>
<circle cx="77.8" cy="384.5" r="1.2" fill="#9c9c9c" stroke="#7a7a7a" stroke-width="0.5"/>
<circle cx="79.8" cy="384.5" r="1.1" fill="#9c9c9c" stroke="#7a7a7a" stroke-width="0.5"/>
<circle cx="81.8" cy="384.5" r="1.3" fill="#9c9c9c" stroke="#7a7a7a" stroke-width="0.5"/>
<circle cx="83.5" cy="384.5" r="1.2" fill="#9c9c9c" stroke="#7a7a7a" stroke-width="0.5"/>
<circle cx="87.6" cy="384.5" r="1.1" fill="#9c9c9c" stroke="#7a7a7a" stroke-width="0.5"/>
<circle cx="89.4" cy="384.5" r="1.4" fill="#9c9c9c" stroke="#7a7a7a" stroke-width="0.5"/>
<circle cx="91.3" cy="384.5" r="1.4" fill="#9c9c9c" stroke="#7a7a7a" stroke-width="0.5"/>
<circle cx="93.5" cy="384.5" r="1.1" fill="#9c9c9c" stroke="#7a7a7a" stroke-width="0.5"/>
<circle cx="95.4" cy="384.5" r="1.3" fill="#9c9c9c" stroke="#7a7a7a" stroke-width="0.5"/>
<circle cx="97.4" cy="384.5" r="1.3" fill="#9c9c9c" stroke="#7a7a7a" stroke-width="0.5"/>
<circle cx="100.8" cy="384.5" r="1.4" fill="#9c9c9c" stroke="#7a7a7a" stroke-width="0.5"/>
<circle cx="102.1" cy="384.5" r="1.3" fill="#9c9c9c" stroke="#7a7a7a" stroke-width="0.5"/>
<circle cx="103.7" cy="384.5" r="1.1" fill="#9c9c9c" stroke="#7a7a7a" stroke-width="0.5"/>
<circle cx="106.8" cy="384.5" r="1.1" fill="#9c9c9c" stroke="#7a7a7a" stroke-width="0.5"/>
<circle cx="108.4" cy="384.5" r="1.4" fill="#9c9c9c" stroke="#7a7a7a" stroke-width="0.5"/>
<circle cx="110.1" cy="384.5" r="1.2" fill="#9c9c9c" stroke="#7a7a7a" stroke-width="0.5"/>
<circle cx="112.0" cy="384.5" r="1.3" fill="#9c9c9c" stroke="#7a7a7a" stroke-width="0.5"/>
<circle cx="115.3" cy="384.5" r="1.4" fill="#9c9c9c" stroke="#7a7a7a" stroke-width="0.5"/>
<circle cx="117.2" cy="384.5" r="1.1" fill="#9c9c9c" stroke="#7a7a7a" stroke-width="0.5"/>
<circle cx="118.6" cy="384.5" r="1.1" fill="#9c9c9c" stroke="#7a7a7a" stroke-width="0.5"/>
<circle cx="121.8" cy="384.5" r="1.2" fill="#9c9c9c" stroke="#7a7a7a" stroke-width="0.5"/>
<circle cx="123.7" cy="384.5" r="1.2" fill="#9c9c9c" stroke="#7a7a7a" stroke-width="0.5"/>
<circle cx="125.3" cy="384.5" r="1.2" fill="#9c9c9c" stroke="#7a7a7a" stroke-width="0.5"/>
<circle cx="127.5" cy="384.5" r="1.2" fill="#9c9c9c" stroke="#7a7a7a" stroke-width="0.5"/>
<circle cx="129.1" cy="384.5" r="1.4" fill="#9c9c9c" stroke="#7a7a7a" stroke-width="0.5"/>
<circle cx="130.4" cy="384.5" r="1.4" fill="#9c9c9c" stroke="#7a7a7a" stroke-width="0.5"/>
<circle cx="133.6" cy="384.5" r="1.3" fill="#9c9c9c" stroke="#7a7a7a" stroke-width="0.5"/>
<circle cx="135.8" cy="384.5" r="1.1" fill="#9c9c9c" stroke="#7a7a7a" stroke-width="0.5"/>
<circle cx="137.2" cy="384.5" r="1.4" fill="#9c9c9c" stroke="#7a7a7a" stroke-width="0.5"/>
<circle cx="139.4" cy="384.5" r="1.1" fill="#9c9c9c" stroke="#7a7a7a" stroke-width="0.5"/>
<circle cx="140.7" cy="384.5" r="1.2" fill="#9c9c9c" stroke="#7a7a7a" stroke-width="0.5"/>
<circle cx="142.1" cy="384.5" r="1.3" fill="#9c9c9c" stroke="#7a7a7a" stroke-width="0.5"/>
<circle cx="143.3" cy="384.5" r="1.3" fill="#9c9c9c" stroke="#7a7a7a" stroke-width="0.5"/>
<circle cx="147.2" cy="384.5" r="1.1" fill="#9c9c9c" stroke="#7a7a7a" stroke-width="0.5"/>
<circle cx="148.6" cy="384.5" r="1.2" fill="#9c9c9c" stroke="#7a7a7a" stroke-width="0.5"/>
<circle cx="149.8" cy="384.5" r="1.3" fill="#9c9c9c" stroke="#7a7a7a" stroke-width="0.5"/>
<circle cx="153.4" cy="384.5" r="1.4" fill="#9c9c9c" stroke="#7a7a7a" stroke-width="0.5"/>
<circle cx="155.4" cy="384.5" r="1.2" fill="#9c9c9c" stroke="#7a7a7a" stroke-width="0.5"/>
<circle cx="157.5" cy="384.5" r="1.2" fill="#9c9c9c" stroke="#7a7a7a" stroke-width="0.5"/>
<circle cx="159.3" cy="384.5" r="1.3" fill="#9c9c9c" stroke="#7a7a7a" stroke-width="0.5"/>
<circle cx="161.4" cy="384.5" r="1.2" fill="#9c9c9c" stroke="#7a7a7a" stroke-width="0.5"/>
<circle cx="163.3" cy="384.5" r="1.2" fill="#9c9c9c" stroke="#7a7a7a" stroke-width="0.5"/>
<circle cx="165.3" cy="384.5" r="1.2" fill="#9c9c9c" stroke="#7a7a7a" stroke-width="0.5"/>
<circle cx="169.0" cy="384.5" r="1.1" fill="#9c9c9c" stroke="#7a7a7a" stroke-width="0.5"/>
<circle cx="170.6" cy="384.5" r="1.1" fill="#9c9c9c" stroke="#7a7a7a" stroke-width="0.5"/>
<circle cx="171.9" cy="384.5" r="1.3" fill="#9c9c9c" stroke="#7a7a7a" stroke-width="0.5"/>
<circle cx="173.4" cy="384.5" r="1.4" fill="#9c9c9c" stroke="#7a7a7a" stroke-width="0.5"/>
<circle cx="174.8" cy="384.5" r="1.4" fill="#9c9c9c" stroke="#7a7a7a" stroke-width="0.5"/>
<circle cx="176.3" cy="384.5" r="1.2" fill="#9c9c9c" stroke="#7a7a7a" stroke-width="0.5"/>
<circle cx="181.6" cy="384.5" r="1.2" fill="#9c9c9c" stroke="#7a7a7a" stroke-width="0.5"/>
<circle cx="183.3" cy="384.5" r="1.1" fill="#9c9c9c" stroke="#7a7a7a" stroke-width="0.5"/>
<circle cx="184.8" cy="384.5" r="1.2" fill="#9c9c9c" stroke="#7a7a7a" stroke-width="0.5"/>
<circle cx="186.7" cy="384.5" r="1.1" fill="#9c9c9c" stroke="#7a7a7a" stroke-width="0.5"/>
<circle cx="190.2" cy="384.5" r="1.1" fill="#9c9c9c" stroke="#7a7a7a" stroke-width="0.5"/>
<circle cx="191.5" cy="384.5" r="1.3" fill="#9c9c9c" stroke="#7a7a7a" stroke-width="0.5"/>
<circle cx="193.3" cy="384.5" r="1.2" fill="#9c9c9c" stroke="#7a7a7a" stroke-width="0.5"/>
<circle cx="195.9" cy="384.5" r="1.3" fill="#9c9c9c" stroke="#7a7a7a" stroke-width="0.5"/>
<circle cx="197.7" cy="384.5" r="1.2" fill="#9c9c9c" stroke="#7a7a7a" stroke-width="0.5"/>
<circle cx="199.5" cy="384.5" r="1.1" fill="#9c9c9c" stroke="#7a7a7a" stroke-width="0.5"/>
<circle cx="201.2" cy="384.5" r="1.3" fill="#9c9c9c" stroke="#7a7a7a" stroke-width="0.5"/>
<circle cx="203.1" cy="384.5" r="1.1" fill="#9c9c9c" stroke="#7a7a7a" stroke-width="0.5"/>
<circle cx="204.3" cy="384.5" r="1.1" fill="#9c9c9c" stroke="#7a7a7a" stroke-width="0.5"/>
<circle cx="208.6" cy="384.5" r="1.2" fill="#9c9c9c" stroke="#7a7a7a" stroke-width="0.5"/>
<circle cx="210.8" cy="384.5" r="1.1" fill="#9c9c9c" stroke="#7a7a7a" stroke-width="0.5"/>
<circle cx="212.5" cy="384.5" r="1.3" fill="#9c9c9c" stroke="#7a7a7a" stroke-width="0.5"/>
<circle cx="214.4" cy="384.5" r="1.2" fill="#9c9c9c" stroke="#7a7a7a" stroke-width="0.5"/>
<circle cx="216.4" cy="384.5" r="1.3" fill="#9c9c9c" stroke="#7a7a7a" stroke-width="0.5"/>
<circle cx="220.4" cy="384.5" r="1.4" fill="#9c9c9c" stroke="#7a7a7a" stroke-width="0.5"/>
<circle cx="222.6" cy="384.5" r="1.1" fill="#9c9c9c" stroke="#7a7a7a" stroke-width="0.5"/>
<circle cx="224.7" cy="384.5" r="1.1" fill="#9c9c9c" stroke="#7a7a7a" stroke-width="0.5"/>
<circle cx="228.3" cy="384.5" r="1.1" fill="#9c9c9c" stroke="#7a7a7a" stroke-width="0.5"/>
<circle cx="230.1" cy="384.5" r="1.1" fill="#9c9c9c" stroke="#7a7a7a" stroke-width="0.5"/>
<circle cx="231.4" cy="384.5" r="1.1" fill="#9c9c9c" stroke="#7a7a7a" stroke-width="0.5"/>
<circle cx="233.6" cy="384.5" r="1.4" fill="#9c9c9c" stroke="#7a7a7a" stroke-width="0.5"/>
<circle cx="235.5" cy="384.5" r="1.4" fill="#9c9c9c" stroke="#7a7a7a" stroke-width="0.5"/>
<circle cx="237.7" cy="384.5" r="1.4" fill="#9c9c9c" stroke="#7a7a7a" stroke-width="0.5"/>
<circle cx="239.3" cy="384.5" r="1.1" fill="#9c9c9c" stroke="#7a7a7a" stroke-width="0.5"/>
<circle cx="243.2" cy="384.5" r="1.1" fill="#9c9c9c" stroke="#7a7a7a" stroke-width="0.5"/>
<circle cx="244.8" cy="384.5" r="1.2" fill="#9c9c9c" stroke="#7a7a7a" stroke-width="0.5"/>
<circle cx="247.0" cy="384.5" r="1.1" fill="#9c9c9c" stroke="#7a7a7a" stroke-width="0.5"/>
<circle cx="248.7" cy="384.5" r="1.4" fill="#9c9c9c" stroke="#7a7a7a" stroke-width="0.5"/>
<circle cx="250.2" cy="384.5" r="1.1" fill="#9c9c9c" stroke="#7a7a7a" stroke-width="0.5"/>
<circle cx="253.0" cy="384.5" r="1.2" fill="#9c9c9c" stroke="#7a7a7a" stroke-width="0.5"/>
<circle cx="254.8" cy="384.5" r="1.3" fill="#9c9c9c" stroke="#7a7a7a" stroke-width="0.5"/>
<circle cx="256.6" cy="384.5" r="1.4" fill="#9c9c9c" stroke="#7a7a7a" stroke-width="0.5"/>
<circle cx="258.3" cy="384.5" r="1.2" fill="#9c9c9c" stroke="#7a7a7a" stroke-width="0.5"/>
<circle cx="259.8" cy="384.5" r="1.3" fill="#9c9c9c" stroke="#7a7a7a" stroke-width="0.5"/>
<circle cx="261.2" cy="384.5" r="1.4" fill="#9c9c9c" stroke="#7a7a7a" stroke-width="0.5"/>
<circle cx="263.2" cy="384.5" r="1.2" fill="#9c9c9c" stroke="#7a7a7a" stroke-width="0.5"/>
<circle cx="267.2" cy="384.5" r="1.3" fill="#9c9c9c" stroke="#7a7a7a" stroke-width="0.5"/>
<circle cx="268.6" cy="384.5" r="1.2" fill="#9c9c9c" stroke="#7a7a7a" stroke-width="0.5"/>
<circle cx="270.3" cy="384.5" r="1.1" fill="#9c9c9c" stroke="#7a7a7a" stroke-width="0.5"/>
<circle cx="272.2" cy="384.5" r="1.3" fill="#9c9c9c" stroke="#7a7a7a" stroke-width="0.5"/>
<circle cx="274.2" cy="384.5" r="1.1" fill="#9c9c9c" stroke="#7a7a7a" stroke-width="0.5"/>
<circle cx="275.9" cy="384.5" r="1.3" fill="#9c9c9c" stroke="#7a7a7a" stroke-width="0.5"/>
<circle cx="278.0" cy="384.5" r="1.4" fill="#9c9c9c" stroke="#7a7a7a" stroke-width="0.5"/>
<circle cx="281.7" cy="384.5" r="1.3" fill="#9c9c9c" stroke="#7a7a7a" stroke-width="0.5"/>
<circle cx="283.6" cy="384.5" r="1.4" fill="#9c9c9c" stroke="#7a7a7a" stroke-width="0.5"/>
<circle cx="285.2" cy="384.5" r="1.1" fill="#9c9c9c" stroke="#7a7a7a" stroke-width="0.5"/>
<circle cx="286.6" cy="384.5" r="1.1" fill="#9c9c9c" stroke="#7a7a7a" stroke-width="0.5"/>
<circle cx="288.5" cy="384.5" r="1.3" fill="#9c9c9c" stroke="#7a7a7a" stroke-width="0.5"/>
<circle cx="290.3" cy="384.5" r="1.3" fill="#9c9c9c" stroke="#7a7a7a" stroke-width="0.5"/>
<circle cx="292.1" cy="384.5" r="1.1" fill="#9c9c9c" stroke="#7a7a7a" stroke-width="0.5"/>
<circle cx="294.0" cy="384.5" r="1.4" fill="#9c9c9c" stroke="#7a7a7a" stroke-width="0.5"/>
<circle cx="296.7" cy="384.5" r="1.2" fill="#9c9c9c" stroke="#7a7a7a" stroke-width="0.5"/>
<circle cx="298.7" cy="384.5" r="1.1" fill="#9c9c9c" stroke="#7a7a7a" stroke-width="0.5"/>
<circle cx="300.8" cy="384.5" r="1.1" fill="#9c9c9c" stroke="#7a7a7a" stroke-width="0.5"/>
<circle cx="302.5" cy="384.5" r="1.3" fill="#9c9c9c" stroke="#7a7a7a" stroke-width="0.5"/>
<circle cx="304.6" cy="384.5" r="1.2" fill="#9c9c9c" stroke="#7a7a7a" stroke-width="0.5"/>
<circle cx="308.1" cy="384.5" r="1.1" fill="#9c9c9c" stroke="#7a7a7a" stroke-width="0.5"/>
<circle cx="310.0" cy="384.5" r="1.1" fill="#9c9c9c" stroke="#7a7a7a" stroke-width="0.5"/>
<circle cx="311.4" cy="384.5" r="1.3" fill="#9c9c9c" stroke="#7a7a7a" stroke-width="0.5"/>
<circle cx="313.4" cy="384.5" r="1.2" fill="#9c9c9c" stroke="#7a7a7a" stroke-width="0.5"/>
<circle cx="317.7" cy="384.5" r="1.1" fill="#9c9c9c" stroke="#7a7a7a" stroke-width="0.5"/>
<circle cx="319.4" cy="384.5" r="1.4" fill="#9c9c9c" stroke="#7a7a7a" stroke-width="0.5"/>
<circle cx="320.7" cy="384.5" r="1.4" fill="#9c9c9c" stroke="#7a7a7a" stroke-width="0.5"/>
<circle cx="322.1" cy="384.5" r="1.1" fill="#9c9c9c" stroke="#7a7a7a" stroke-width="0.5"/>
<circle cx="325.9" cy="384.5" r="1.3" fill="#9c9c9c" stroke="#7a7a7a" stroke-width="0.5"/>
<circle cx="327.6" cy="384.5" r="1.2" fill="#9c9c9c" stroke="#7a7a7a" stroke-width="0.5"/>
<circle cx="328.9" cy="384.5" r="1.1" fill="#9c9c9c" stroke="#7a7a7a" stroke-width="0.5"/>
<circle cx="330.3" cy="384.5" r="1.4" fill="#9c9c9c" stroke="#7a7a7a" stroke-width="0.5"/>
<circle cx="332.5" cy="384.5" r="1.3" fill="#9c9c9c" stroke="#7a7a7a" stroke-width="0.5"/>
<circle cx="334.2" cy="384.5" r="1.3" fill="#9c9c9c" stroke="#7a7a7a" stroke-width="0.5"/>
<circle cx="335.7" cy="384.5" r="1.1" fill="#9c9c9c" stroke="#7a7a7a" stroke-width="0.5"/>
<circle cx="338.4" cy="384.5" r="1.3" fill="#9c9c9c" stroke="#7a7a7a" stroke-width="0.5"/>
<circle cx="340.1" cy="384.5" r="1.3" fill="#9c9c9c" stroke="#7a7a7a" stroke-width="0.5"/>
<circle cx="341.8" cy="384.5" r="1.1" fill="#9c9c9c" stroke="#7a7a7a" stroke-width="0.5"/>
<circle cx="343.2" cy="384.5" r="1.1" fill="#9c9c9c" stroke="#7a7a7a" stroke-width="0.5"/>
<circle cx="344.9" cy="384.5" r="1.1" fill="#9c9c9c" stroke="#7a7a7a" stroke-width="0.5"/>
<circle cx="346.2" cy="384.5" r="1.3" fill="#9c9c9c" stroke="#7a7a7a" stroke-width="0.5"/>
<circle cx="351.2" cy="384.5" r="1.2" fill="#9c9c9c" stroke="#7a7a7a" stroke-width="0.5"/>
<circle cx="353.4" cy="384.5" r="1.4" fill="#9c9c9c" stroke="#7a7a7a" stroke-width="0.5"/>
<circle cx="355.5" cy="384.5" r="1.4" fill="#9c9c9c" stroke="#7a7a7a" stroke-width="0.5"/>
<circle cx="357.3" cy="384.5" r="1.1" fill="#9c9c9c" stroke="#7a7a7a" stroke-width="0.5"/>
<circle cx="359.2" cy="384.5" r="1.4" fill="#9c9c9c" stroke="#7a7a7a" stroke-width="0.5"/>
<circle cx="361.0" cy="384.5" r="1.3" fill="#9c9c9c" stroke="#7a7a7a" stroke-width="0.5"/>
<circle cx="365.2" cy="384.5" r="1.3" fill="#9c9c9c" stroke="#7a7a7a" stroke-width="0.5"/>
<circle cx="366.7" cy="384.5" r="1.4" fill="#9c9c9c" stroke="#7a7a7a" stroke-width="0.5"/>
<circle cx="368.9" cy="384.5" r="1.2" fill="#9c9c9c" stroke="#7a7a7a" stroke-width="0.5"/>
<circle cx="370.4" cy="384.5" r="1.2" fill="#9c9c9c" stroke="#7a7a7a" stroke-width="0.5"/>
<circle cx="374.7" cy="384.5" r="1.4" fill="#9c9c9c" stroke="#7a7a7a" stroke-width="0.5"/>
<circle cx="376.1" cy="384.5" r="1.1" fill="#9c9c9c" stroke="#7a7a7a" stroke-width="0.5"/>
<circle cx="377.8" cy="384.5" r="1.4" fill="#9c9c9c" stroke="#7a7a7a" stroke-width="0.5"/>
<circle cx="379.1" cy="384.5" r="1.1" fill="#9c9c9c" stroke="#7a7a7a" stroke-width="0.5"/>
<circle cx="380.8" cy="384.5" r="1.4" fill="#9c9c9c" stroke="#7a7a7a" stroke-width="0.5"/>
<circle cx="382.5" cy="384.5" r="1.1" fill="#9c9c9c" stroke="#7a7a7a" stroke-width="0.5"/>
<circle cx="384.2" cy="384.5" r="1.2" fill="#9c9c9c" stroke="#7a7a7a" stroke-width="0.5"/>
<circle cx="395.3" cy="384.5" r="1.3" fill="#a8a8a8" stroke="#8a8a8a" stroke-width="0.5"/>
<circle cx="400" cy="384.5" r="1.3" fill="#a8a8a8" stroke="#8a8a8a" stroke-width="0.5"/>
<circle cx="401.7" cy="384.5" r="1.3" fill="#a8a8a8" stroke="#8a8a8a" stroke-width="0.5"/>
<circle cx="408.9" cy="384.5" r="1.3" fill="#a8a8a8" stroke="#8a8a8a" stroke-width="0.5"/>
<circle cx="431.4" cy="384.5" r="1.3" fill="#a8a8a8" stroke="#8a8a8a" stroke-width="0.5"/>
<circle cx="447.4" cy="384.5" r="1.3" fill="#a8a8a8" stroke="#8a8a8a" stroke-width="0.5"/>
<circle cx="449.9" cy="384.5" r="1.3" fill="#a8a8a8" stroke="#8a8a8a" stroke-width="0.5"/>
<circle cx="454.7" cy="384.5" r="1.3" fill="#a8a8a8" stroke="#8a8a8a" stroke-width="0.5"/>
<circle cx="458.7" cy="384.5" r="1.3" fill="#a8a8a8" stroke="#8a8a8a" stroke-width="0.5"/>
<circle cx="477.2" cy="384.5" r="1.3" fill="#a8a8a8" stroke="#8a8a8a" stroke-width="0.5"/>
<circle cx="487.6" cy="384.5" r="1.3" fill="#a8a8a8" stroke="#8a8a8a" stroke-width="0.5"/>
<circle cx="490.5" cy="384.5" r="1.3" fill="#a8a8a8" stroke="#8a8a8a" stroke-width="0.5"/>
<circle cx="498.4" cy="384.5" r="1.3" fill="#a8a8a8" stroke="#8a8a8a" stroke-width="0.5"/>
<circle cx="515.9" cy="384.5" r="1.3" fill="#a8a8a8" stroke="#8a8a8a" stroke-width="0.5"/>
<circle cx="534.8" cy="384.5" r="1.3" fill="#a8a8a8" stroke="#8a8a8a" stroke-width="0.5"/>
<circle cx="545.3" cy="384.5" r="1.3" fill="#a8a8a8" stroke="#8a8a8a" stroke-width="0.5"/>
<circle cx="557.1" cy="384.5" r="1.3" fill="#a8a8a8" stroke="#8a8a8a" stroke-width="0.5"/>
<circle cx="565.8" cy="384.5" r="1.3" fill="#a8a8a8" stroke="#8a8a8a" stroke-width="0.5"/>
<circle cx="582.5" cy="384.5" r="1.3" fill="#a8a8a8" stroke="#8a8a8a" stroke-width="0.5"/>
<circle cx="597.6" cy="384.5" r="1.3" fill="#a8a8a8" stroke="#8a8a8a" stroke-width="0.5"/>
<circle cx="609.4" cy="384.5" r="1.3" fill="#a8a8a8" stroke="#8a8a8a" stroke-width="0.5"/>
<circle cx="639.2" cy="384.5" r="1.3" fill="#a8a8a8" stroke="#8a8a8a" stroke-width="0.5"/>
<circle cx="669.3" cy="384.5" r="1.3" fill="#a8a8a8" stroke="#8a8a8a" stroke-width="0.5"/>
<circle cx="617.7" cy="384.5" r="1.8" fill="#8f8f8f"/>
<circle cx="80.9" cy="384.5" r="3.8" fill="#8f8f8f"/>
<circle cx="132.5" cy="384.5" r="3.2" fill="#8f8f8f"/>
<circle cx="85.6" cy="403.4" r="1.35" fill="#000"/>
<circle cx="137.4" cy="400.3" r="1.35" fill="#000"/>
<circle cx="145.3" cy="401.2" r="1.35" fill="#000"/>
<circle cx="181.8" cy="399.4" r="1.35" fill="#000"/>
<circle cx="197.8" cy="399.7" r="1.35" fill="#000"/>
<circle cx="227.9" cy="401.2" r="1.35" fill="#000"/>
<circle cx="265" cy="418.7" r="1.35" fill="#000"/>
<circle cx="279.6" cy="402.3" r="1.35" fill="#000"/>
<circle cx="304.5" cy="402.5" r="1.35" fill="#000"/>
<circle cx="324.9" cy="400.4" r="1.35" fill="#000"/>
<circle cx="383.6" cy="399.8" r="1.35" fill="#000"/>
<circle cx="438" cy="412.1" r="1.35" fill="#000"/>
<circle cx="458.4" cy="404" r="1.35" fill="#000"/>
<circle cx="483.3" cy="404.6" r="1.35" fill="#000"/>
<circle cx="498" cy="405.5" r="1.35" fill="#000"/>
<circle cx="565.3" cy="402.5" r="1.35" fill="#000"/>
<circle cx="617.7" cy="404" r="1.35" fill="#000"/>
<circle cx="669.2" cy="391.1" r="1.35" fill="#000"/>
<line x1="49.5" y1="449" x2="49.5" y2="544.5" stroke="#6a6a6a" stroke-width="1"/>
<line x1="44" y1="454.5" x2="685" y2="454.5" stroke="#7a7a7a" stroke-width="1"/>
<line x1="44" y1="454.5" x2="49.4" y2="454.5" stroke="#6a6a6a" stroke-width="1"/>
<text transform="translate(39.6,458.8) scale(1,1.16)" font-size="9.6" text-anchor="end" fill="#000">0</text>
<line x1="44" y1="462.5" x2="49.4" y2="462.5" stroke="#6a6a6a" stroke-width="1"/>
<text transform="translate(39.6,466.8) scale(1,1.16)" font-size="9.6" text-anchor="end" fill="#000">10</text>
<line x1="44" y1="470.5" x2="49.4" y2="470.5" stroke="#6a6a6a" stroke-width="1"/>
<text transform="translate(39.6,474.8) scale(1,1.16)" font-size="9.6" text-anchor="end" fill="#000">20</text>
<line x1="44" y1="479.5" x2="49.4" y2="479.5" stroke="#6a6a6a" stroke-width="1"/>
<text transform="translate(39.6,483.8) scale(1,1.16)" font-size="9.6" text-anchor="end" fill="#000">30</text>
<line x1="44" y1="487.5" x2="49.4" y2="487.5" stroke="#6a6a6a" stroke-width="1"/>
<text transform="translate(39.6,491.8) scale(1,1.16)" font-size="9.6" text-anchor="end" fill="#000">40</text>
<line x1="44" y1="495.5" x2="49.4" y2="495.5" stroke="#6a6a6a" stroke-width="1"/>
<text transform="translate(39.6,499.8) scale(1,1.16)" font-size="9.6" text-anchor="end" fill="#000">50</text>
<line x1="44" y1="503.5" x2="49.4" y2="503.5" stroke="#6a6a6a" stroke-width="1"/>
<text transform="translate(39.6,507.8) scale(1,1.16)" font-size="9.6" text-anchor="end" fill="#000">60</text>
<line x1="44" y1="511.5" x2="49.4" y2="511.5" stroke="#6a6a6a" stroke-width="1"/>
<text transform="translate(39.6,515.8) scale(1,1.16)" font-size="9.6" text-anchor="end" fill="#000">70</text>
<line x1="44" y1="519.5" x2="49.4" y2="519.5" stroke="#6a6a6a" stroke-width="1"/>
<text transform="translate(39.6,523.8) scale(1,1.16)" font-size="9.6" text-anchor="end" fill="#000">80</text>
<line x1="44" y1="528.5" x2="49.4" y2="528.5" stroke="#6a6a6a" stroke-width="1"/>
<text transform="translate(39.6,532.8) scale(1,1.16)" font-size="9.6" text-anchor="end" fill="#000">90</text>
<line x1="44" y1="536.5" x2="49.4" y2="536.5" stroke="#6a6a6a" stroke-width="1"/>
<text transform="translate(39.6,540.8) scale(1,1.16)" font-size="9.6" text-anchor="end" fill="#000">100</text>
<line x1="44" y1="544.5" x2="49.4" y2="544.5" stroke="#6a6a6a" stroke-width="1"/>
<text transform="translate(39.6,548.8) scale(1,1.16)" font-size="9.6" text-anchor="end" fill="#000">110</text>
<line x1="110.27" y1="449" x2="110.27" y2="454.5" stroke="#6a6a6a" stroke-width="1"/>
<text transform="translate(110.3,443.9) scale(1,1.16)" font-size="9.8" text-anchor="middle" fill="#000">200</text>
<line x1="201.59" y1="449" x2="201.59" y2="454.5" stroke="#6a6a6a" stroke-width="1"/>
<text transform="translate(201.6,443.9) scale(1,1.16)" font-size="9.8" text-anchor="middle" fill="#000">400</text>
<line x1="292.91" y1="449" x2="292.91" y2="454.5" stroke="#6a6a6a" stroke-width="1"/>
<text transform="translate(292.9,443.9) scale(1,1.16)" font-size="9.8" text-anchor="middle" fill="#000">600</text>
<line x1="384.23" y1="449" x2="384.23" y2="454.5" stroke="#6a6a6a" stroke-width="1"/>
<text transform="translate(384.2,443.9) scale(1,1.16)" font-size="9.8" text-anchor="middle" fill="#000">800</text>
<line x1="475.55" y1="449" x2="475.55" y2="454.5" stroke="#6a6a6a" stroke-width="1"/>
<text transform="translate(475.6,443.9) scale(1,1.16)" font-size="9.8" text-anchor="middle" fill="#000">1,000</text>
<line x1="566.87" y1="449" x2="566.87" y2="454.5" stroke="#6a6a6a" stroke-width="1"/>
<text transform="translate(566.9,443.9) scale(1,1.16)" font-size="9.8" text-anchor="middle" fill="#000">1,200</text>
<line x1="658.19" y1="449" x2="658.19" y2="454.5" stroke="#6a6a6a" stroke-width="1"/>
<text transform="translate(658.2,443.9) scale(1,1.16)" font-size="9.8" text-anchor="middle" fill="#000">1,400</text>
<line x1="684.3" y1="449" x2="684.3" y2="454.5" stroke="#999" stroke-width="1"/>
<text transform="translate(14.8,550.9) rotate(-90)" font-size="9.75" fill="#000">Relative abundance (%)</text>
<line x1="86.1" y1="454.5" x2="86.1" y2="463.1" stroke="#c8202f" stroke-width="2"/>
<line x1="137.8" y1="454.5" x2="137.8" y2="457.4" stroke="#c8202f" stroke-width="2"/>
<line x1="145.5" y1="454.5" x2="145.5" y2="486.8" stroke="#1a74c4" stroke-width="2"/>
<line x1="182.1" y1="454.5" x2="182.1" y2="515.5" stroke="#c8202f" stroke-width="2"/>
<line x1="198.0" y1="454.5" x2="198.0" y2="502.5" stroke="#1a74c4" stroke-width="2"/>
<line x1="228.2" y1="454.5" x2="228.2" y2="491.9" stroke="#c8202f" stroke-width="2"/>
<line x1="265.2" y1="454.5" x2="265.2" y2="457.0" stroke="#1a74c4" stroke-width="2"/>
<line x1="279.8" y1="454.5" x2="279.8" y2="468.4" stroke="#c8202f" stroke-width="2"/>
<line x1="304.9" y1="454.5" x2="304.9" y2="456.5" stroke="#1a74c4" stroke-width="2"/>
<line x1="325.1" y1="454.5" x2="325.1" y2="468.9" stroke="#c8202f" stroke-width="2"/>
<line x1="379.4" y1="454.5" x2="379.4" y2="455.4" stroke="#1a74c4" stroke-width="2"/>
<line x1="384.0" y1="454.5" x2="384.0" y2="473.7" stroke="#c8202f" stroke-width="2"/>
<line x1="438.3" y1="454.5" x2="438.3" y2="455.4" stroke="#1a74c4" stroke-width="2"/>
<line x1="458.5" y1="454.5" x2="458.5" y2="481.0" stroke="#c8202f" stroke-width="2"/>
<line x1="483.5" y1="454.5" x2="483.5" y2="455.4" stroke="#1a74c4" stroke-width="2"/>
<line x1="498.2" y1="454.5" x2="498.2" y2="496.4" stroke="#c8202f" stroke-width="2"/>
<line x1="535.2" y1="454.5" x2="535.2" y2="455.4" stroke="#1a74c4" stroke-width="2"/>
<line x1="565.3" y1="454.5" x2="565.3" y2="480.6" stroke="#c8202f" stroke-width="2"/>
<line x1="581.3" y1="454.5" x2="581.3" y2="455.4" stroke="#1a74c4" stroke-width="2"/>
<line x1="617.9" y1="454.5" x2="617.9" y2="535.2" stroke="#c8202f" stroke-width="2"/>
<line x1="669.5" y1="454.5" x2="669.5" y2="458.6" stroke="#c8202f" stroke-width="2"/>
<text transform="translate(81.5,472.0) scale(1,1.0)" font-size="10" fill="#000">y<tspan font-size="6.9" dy="2.3">1</tspan></text>
<text transform="translate(132.7,466.0) scale(1,1.0)" font-size="10" fill="#000">y<tspan font-size="6.9" dy="2.3">2</tspan></text>
<text transform="translate(141.4,496.4) scale(1,1.0)" font-size="10" fill="#000">b<tspan font-size="6.9" dy="2.3">2</tspan></text>
<text transform="translate(177.0,523.5) scale(1,1.0)" font-size="10" fill="#000">y<tspan font-size="6.9" dy="2.3">3</tspan></text>
<text transform="translate(193.6,513.0) scale(1,1.0)" font-size="10" fill="#000">b<tspan font-size="6.9" dy="2.3">3</tspan></text>
<text transform="translate(223.0,500.2) scale(1,1.0)" font-size="10" fill="#000">y<tspan font-size="6.9" dy="2.3">4</tspan></text>
<text transform="translate(259.8,467.0) scale(1,1.0)" font-size="10" fill="#000">b<tspan font-size="6.9" dy="2.3">4</tspan></text>
<text transform="translate(274.8,476.5) scale(1,1.0)" font-size="10" fill="#000">y<tspan font-size="6.9" dy="2.3">5</tspan></text>
<text transform="translate(299.3,465.7) scale(1,1.0)" font-size="10" fill="#000">b<tspan font-size="6.9" dy="2.3">5</tspan></text>
<text transform="translate(319.7,476.8) scale(1,1.0)" font-size="10" fill="#000">y<tspan font-size="6.9" dy="2.3">6</tspan></text>
<text transform="translate(372.8,463.1) scale(1,1.0)" font-size="10" fill="#000">b<tspan font-size="6.9" dy="2.3">6</tspan></text>
<text transform="translate(378.9,482.3) scale(1,1.0)" font-size="10" fill="#000">y<tspan font-size="6.9" dy="2.3">7</tspan></text>
<text transform="translate(433.3,464.4) scale(1,1.0)" font-size="10" fill="#000">b<tspan font-size="6.9" dy="2.3">7</tspan></text>
<text transform="translate(453.5,488.9) scale(1,1.0)" font-size="10" fill="#000">y<tspan font-size="6.9" dy="2.3">8</tspan></text>
<text transform="translate(478.5,464.4) scale(1,1.0)" font-size="10" fill="#000">b<tspan font-size="6.9" dy="2.3">8</tspan></text>
<text transform="translate(493.7,504.6) scale(1,1.0)" font-size="10" fill="#000">y<tspan font-size="6.9" dy="2.3">9</tspan></text>
<text transform="translate(530.7,464.4) scale(1,1.0)" font-size="10" fill="#000">b<tspan font-size="6.9" dy="2.3">9</tspan></text>
<text transform="translate(560.2,487.5) scale(1,1.0)" font-size="10" fill="#000">y<tspan font-size="6.9" dy="2.3">10</tspan></text>
<text transform="translate(571.5,464.4) scale(1,1.0)" font-size="10" fill="#000">b<tspan font-size="6.9" dy="2.3">10</tspan></text>
<text transform="translate(612.2,542.7) scale(1,1.0)" font-size="10" fill="#000">y<tspan font-size="6.9" dy="2.3">11</tspan></text>
<text transform="translate(662.6,464.7) scale(1,1.0)" font-size="10" fill="#000">y<tspan font-size="6.9" dy="2.3">12</tspan></text>
</svg></body></html>
